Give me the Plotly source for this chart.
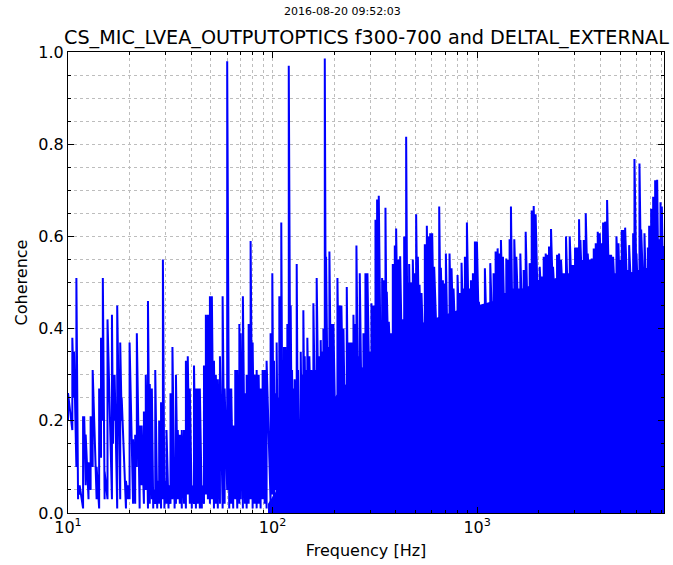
import math
import plotly.graph_objects as go

# ---------------- data ----------------
# frequency (Hz) of each local excursion of the coherence trace
freq_hz = [
    10.0, 10.5, 10.7, 10.99, 11.2, 11.4, 11.85, 12.0, 12.2, 12.6,
    12.9, 13.2, 13.8, 14.2, 14.5, 14.8, 15.1, 15.6, 16.4, 16.6,
    16.9, 17.4, 18.0, 18.3, 19.2, 19.6, 20.0, 20.8, 21.3, 21.7,
    22.4, 22.9, 23.5, 24.0, 24.6, 25.1, 25.7, 26.1, 26.7, 27.3,
    27.9, 28.5, 29.1, 29.6, 30.3, 31.0, 31.7, 32.4, 33.2, 33.7,
    34.4, 35.2, 36.0, 36.9, 37.7, 38.5, 39.4, 40.3, 41.3, 42.2,
    43.1, 44.1, 45.1, 46.2, 47.2, 48.3, 49.4, 50.5, 51.7, 52.8,
    54.0, 55.3, 57.0, 58.3, 60.0, 61.4, 62.8, 64.2, 65.7, 67.2,
    68.8, 69.8, 71.6, 73.3, 74.7, 76.4, 78.1, 79.9, 81.7, 83.6,
    85.5, 87.4, 89.4, 91.5, 93.5,
    97.8, 99.7, 101.6, 103.1, 104.7, 106.3, 107.9, 110.3, 112.0, 113.7,
    115.4, 117.2, 118.1, 120.0, 122.6, 124.5, 126.3, 128.2, 131.2, 133.2,
    135.2, 137.3, 139.3, 141.4, 143.6, 145.7, 147.9, 151.3, 154.7, 158.3,
    161.9, 164.3, 168.1, 171.9, 174.5, 177.2, 180.0, 182.6, 186.7, 189.6,
    193.9, 198.4, 202.8, 207.5, 212.2, 217.0, 222.0, 225.4, 230.5, 233.9,
    239.3, 243.8, 248.5, 252.2, 257.0, 261.8, 266.8, 271.9, 278.1, 284.4,
    290.9, 297.5, 304.3, 311.2, 318.4, 324.3, 330.5, 338.1, 343.2, 348.3,
    356.3, 361.7, 370.0, 378.4, 387.0, 395.8, 401.8, 411.0, 420.4, 430.0,
    439.8, 449.8, 456.6, 465.2, 474.0, 484.8, 495.8, 503.3, 513.0, 522.7,
    534.6, 546.8, 555.0, 567.7, 578.5, 589.5, 602.9, 616.6, 635.5, 652.4,
    664.7, 679.9, 690.2, 703.3, 716.6, 732.8, 749.5, 766.6, 784.1, 802.0,
    820.3, 839.0, 858.2, 871.2, 891.1,
    911.4, 932.2, 953.5, 975.2, 997.5, 1020, 1043, 1067, 1091, 1116,
    1133, 1159, 1186, 1203, 1231, 1259, 1288, 1307, 1337, 1357,
    1388, 1420, 1441, 1463, 1485, 1519, 1554, 1589, 1626, 1663,
    1688, 1727, 1766, 1806, 1848, 1890, 1932, 1977, 2022, 2068,
    2115, 2163, 2213, 2246, 2297, 2349, 2403, 2458, 2514, 2570,
    2629, 2669, 2719, 2771, 2835, 2900, 2944, 3010, 3079, 3149,
    3197, 3270, 3319, 3395, 3472, 3551, 3632, 3715, 3799, 3886,
    3975, 4066, 4127, 4221, 4317, 4416, 4516, 4619, 4725, 4797,
    4906, 4980, 5093, 5210, 5289, 5410, 5533, 5660, 5789, 5875,
    6010, 6100, 6216, 6334, 6478, 6576, 6676, 6829, 6932, 7090,
    7251, 7416, 7585, 7700, 7876, 7995, 8116, 8192,
]

# coherence at the top of each excursion
peak_coh = [
    0.26, 0.38, 0.35, 0.51, 0.06, 0.06, 0.21, 0.21, 0.17, 0.11,
    0.21, 0.31, 0.10, 0.27, 0.38, 0.51, 0.09, 0.42, 0.43, 0.30,
    0.30, 0.45, 0.37, 0.25, 0.07, 0.06, 0.37, 0.16, 0.17, 0.39,
    0.19, 0.19, 0.22, 0.30, 0.46, 0.28, 0.27, 0.05, 0.31, 0.07,
    0.20, 0.24, 0.55, 0.07, 0.18, 0.06, 0.26, 0.36, 0.05, 0.30,
    0.18, 0.17, 0.18, 0.18, 0.33, 0.34, 0.27, 0.06, 0.32, 0.27,
    0.27, 0.27, 0.06, 0.32, 0.43, 0.43, 0.47, 0.47, 0.33, 0.30,
    0.29, 0.34, 0.47, 0.27, 0.98, 0.27, 0.27, 0.19, 0.31, 0.31,
    0.41, 0.39, 0.47, 0.26, 0.30, 0.41, 0.59, 0.37, 0.30, 0.31,
    0.30, 0.27, 0.31, 0.31, 0.33,
    0.39, 0.52, 0.33, 0.26, 0.37, 0.25, 0.47, 0.63, 0.22, 0.36,
    0.36, 0.30, 0.41, 0.97, 0.45, 0.31, 0.27, 0.29, 0.54, 0.31,
    0.20, 0.35, 0.30, 0.44, 0.34, 0.31, 0.38, 0.34, 0.31, 0.455,
    0.31, 0.51, 0.34, 0.375, 0.35, 0.40, 0.986, 0.556, 0.36, 0.567,
    0.41, 0.41, 0.20, 0.51, 0.45, 0.45, 0.40, 0.27, 0.49, 0.37,
    0.37, 0.37, 0.43, 0.41, 0.58, 0.34, 0.52, 0.27, 0.39, 0.52,
    0.52, 0.35, 0.455, 0.45, 0.636, 0.68, 0.688, 0.33, 0.51, 0.505,
    0.662, 0.48, 0.415, 0.39, 0.54, 0.58, 0.617, 0.55, 0.557, 0.42,
    0.60, 0.816, 0.50, 0.54, 0.50, 0.55, 0.52, 0.648, 0.556, 0.495,
    0.477, 0.343, 0.583, 0.623, 0.60, 0.607, 0.607, 0.534, 0.42, 0.665,
    0.532, 0.505, 0.498, 0.563, 0.368, 0.563, 0.531, 0.487, 0.404, 0.516,
    0.477, 0.543, 0.487, 0.556, 0.63,
    0.487, 0.505, 0.52, 0.589, 0.589, 0.458, 0.444, 0.437, 0.531, 0.397,
    0.375, 0.542, 0.433, 0.52, 0.567, 0.574, 0.563, 0.592, 0.556, 0.477,
    0.552, 0.549, 0.594, 0.665, 0.487, 0.594, 0.556, 0.487, 0.563, 0.433,
    0.527, 0.61, 0.462, 0.542, 0.656, 0.666, 0.648, 0.505, 0.534, 0.513,
    0.556, 0.563, 0.56, 0.578, 0.616, 0.534, 0.505, 0.56, 0.563, 0.549,
    0.52, 0.52, 0.60, 0.52, 0.60, 0.538, 0.538, 0.576, 0.576, 0.637,
    0.592, 0.549, 0.592, 0.65, 0.563, 0.55, 0.552, 0.574, 0.585, 0.61,
    0.607, 0.585, 0.63, 0.632, 0.679, 0.56, 0.56, 0.556, 0.505, 0.60,
    0.585, 0.549, 0.614, 0.614, 0.619, 0.527, 0.581, 0.505, 0.607, 0.768,
    0.563, 0.527, 0.758, 0.615, 0.527, 0.607, 0.531, 0.576, 0.623, 0.66,
    0.686, 0.722, 0.723, 0.594, 0.674, 0.665, 0.579, 0.57,
]

# coherence at the dip just before each excursion
dip_coh = [
    0.20, 0.18, 0.25, 0.10, 0.03, 0.04, 0.01, 0.15, 0.06, 0.03,
    0.05, 0.10, 0.03, 0.01, 0.12, 0.20, 0.03, 0.03, 0.03, 0.15,
    0.20, 0.01, 0.03, 0.20, 0.01, 0.03, 0.03, 0.02, 0.02, 0.10,
    0.01, 0.06, 0.02, 0.05, 0.01, 0.02, 0.03, 0.01, 0.02, 0.01,
    0.02, 0.01, 0.03, 0.01, 0.02, 0.01, 0.02, 0.03, 0.01, 0.02,
    0.03, 0.02, 0.01, 0.02, 0.01, 0.04, 0.02, 0.01, 0.02, 0.01,
    0.02, 0.01, 0.01, 0.02, 0.04, 0.03, 0.02, 0.03, 0.01, 0.02,
    0.01, 0.02, 0.01, 0.02, 0.05, 0.01, 0.02, 0.01, 0.03, 0.01,
    0.02, 0.03, 0.01, 0.02, 0.01, 0.02, 0.03, 0.01, 0.02, 0.01,
    0.02, 0.01, 0.03, 0.02, 0.01,
    0.02, 0.04, 0.01, 0.05, 0.02, 0.04, 0.02, 0.05, 0.03, 0.04,
    0.03, 0.06, 0.03, 0.06, 0.04, 0.06, 0.05, 0.08, 0.06, 0.05,
    0.10, 0.12, 0.10, 0.12, 0.10, 0.12, 0.14, 0.12, 0.14, 0.12,
    0.15, 0.14, 0.16, 0.14, 0.15, 0.16, 0.15, 0.18, 0.16, 0.18,
    0.17, 0.18, 0.17, 0.19, 0.18, 0.20, 0.19, 0.20, 0.21, 0.20,
    0.22, 0.21, 0.22, 0.23, 0.22, 0.24, 0.23, 0.24, 0.25, 0.24,
    0.26, 0.25, 0.27, 0.26, 0.27, 0.28, 0.27, 0.28, 0.29, 0.28,
    0.29, 0.30, 0.29, 0.30, 0.30, 0.31, 0.30, 0.31, 0.31, 0.30,
    0.32, 0.31, 0.32, 0.33, 0.32, 0.33, 0.32, 0.33, 0.34, 0.33,
    0.34, 0.33, 0.34, 0.35, 0.34, 0.35, 0.34, 0.35, 0.36, 0.35,
    0.36, 0.35, 0.36, 0.36, 0.35, 0.37, 0.36, 0.37, 0.36, 0.37,
    0.37, 0.38, 0.37, 0.38, 0.38,
    0.38, 0.37, 0.38, 0.39, 0.38, 0.39, 0.38, 0.39, 0.40, 0.36,
    0.35, 0.40, 0.39, 0.40, 0.41, 0.40, 0.41, 0.42, 0.41, 0.42,
    0.42, 0.43, 0.42, 0.43, 0.42, 0.43, 0.44, 0.43, 0.44, 0.40,
    0.44, 0.45, 0.42, 0.45, 0.46, 0.45, 0.46, 0.45, 0.46, 0.45,
    0.46, 0.46, 0.45, 0.46, 0.47, 0.46, 0.45, 0.46, 0.47, 0.46,
    0.46, 0.47, 0.46, 0.47, 0.46, 0.47, 0.46, 0.47, 0.47, 0.46,
    0.47, 0.46, 0.47, 0.48, 0.47, 0.48, 0.47, 0.48, 0.47, 0.48,
    0.48, 0.47, 0.48, 0.48, 0.47, 0.48, 0.48, 0.47, 0.46, 0.48,
    0.48, 0.47, 0.48, 0.48, 0.49, 0.48, 0.49, 0.48, 0.49, 0.48,
    0.49, 0.48, 0.49, 0.48, 0.49, 0.48, 0.49, 0.48, 0.49, 0.48,
    0.49, 0.48, 0.49, 0.48, 0.49, 0.48, 0.49, 0.48,
]

# level below which the dense trace is solid (no visible gaps)
floor_freq = [95, 105, 120, 140, 170, 200, 250, 300, 350, 450, 600, 800,
              1000, 1200, 1500, 2000, 3000, 5000, 8192]
floor_coh = [0.02, 0.05, 0.12, 0.18, 0.22, 0.25, 0.30, 0.33, 0.37, 0.40,
             0.42, 0.44, 0.45, 0.46, 0.48, 0.50, 0.52, 0.52, 0.53]

x_major = [10, 100, 1000]
x_major_text = ["10<sup>1</sup>", "10<sup>2</sup>", "10<sup>3</sup>"]
x_minor = [20, 30, 40, 50, 60, 70, 80, 90,
           200, 300, 400, 500, 600, 700, 800, 900,
           2000, 3000, 4000, 5000, 6000, 7000, 8000]
y_major = [0.0, 0.2, 0.4, 0.6, 0.8, 1.0]

title_text = "CS_MIC_LVEA_OUTPUTOPTICS f300-700 and DELTAL_EXTERNAL"
suptitle_text = "2016-08-20 09:52:03"

# ---------------- figure ----------------
BLUE = "#0000ff"
FONT = "DejaVu Sans"
GRID = "#bdbdbd"

line_x, line_y = [], []
for f, lo, hi in zip(freq_hz, dip_coh, peak_coh):
    line_x += [f, f]
    line_y += [lo, hi]

fig = go.Figure()
fig.add_trace(go.Scatter(x=floor_freq, y=floor_coh, mode="none",
                         fill="tozeroy", fillcolor=BLUE, hoverinfo="skip"))
fig.add_trace(go.Scatter(x=line_x, y=line_y, mode="lines",
                         line=dict(color=BLUE, width=2)))

fig.update_layout(
    width=673, height=565,
    margin=dict(l=68, r=9, t=52, b=52, autoexpand=False),
    paper_bgcolor="white", plot_bgcolor="white",
    showlegend=False,
    font=dict(family=FONT, color="black", size=16),
)

fig.update_xaxes(
    type="log", range=[1, math.log10(8192)],
    tickvals=x_major, ticktext=x_major_text,
    ticks="inside", ticklen=6, tickcolor="black", tickwidth=1,
    showline=True, linecolor="black", linewidth=1, mirror="ticks",
    showgrid=True, gridcolor=GRID, griddash="dot", gridwidth=1,
    zeroline=False, automargin=False,
    tickfont=dict(family=FONT, size=16),
    minor=dict(tickvals=x_minor, ticks="inside", ticklen=3,
               tickcolor="black", showgrid=True, gridcolor=GRID,
               griddash="dot", gridwidth=1),
    title=dict(text="Frequency [Hz]", font=dict(family=FONT, size=16),
               standoff=8),
)

fig.update_yaxes(
    range=[0, 1], tickvals=y_major, tickformat=".1f",
    ticks="inside", ticklen=6, tickcolor="black", tickwidth=1,
    showline=True, linecolor="black", linewidth=1, mirror="ticks",
    showgrid=True, gridcolor=GRID, griddash="dot", gridwidth=1,
    zeroline=False, automargin=False,
    tickfont=dict(family=FONT, size=16),
    minor=dict(dtick=0.05, ticks="inside", ticklen=3, tickcolor="black",
               showgrid=True, gridcolor=GRID, griddash="dot", gridwidth=1),
    title=dict(text="Coherence", font=dict(family=FONT, size=16),
               standoff=6),
)

fig.add_annotation(text=title_text, xref="paper", yref="paper",
                   x=0.5, y=1.0, xanchor="center", yanchor="bottom",
                   yshift=1, showarrow=False,
                   font=dict(family=FONT, size=19.2, color="black"))
fig.add_annotation(text=suptitle_text, xref="paper", yref="paper",
                   x=0.46, y=1.087, xanchor="center", yanchor="middle",
                   showarrow=False,
                   font=dict(family=FONT, size=11, color="black"))

fig.write_html("out.html")
